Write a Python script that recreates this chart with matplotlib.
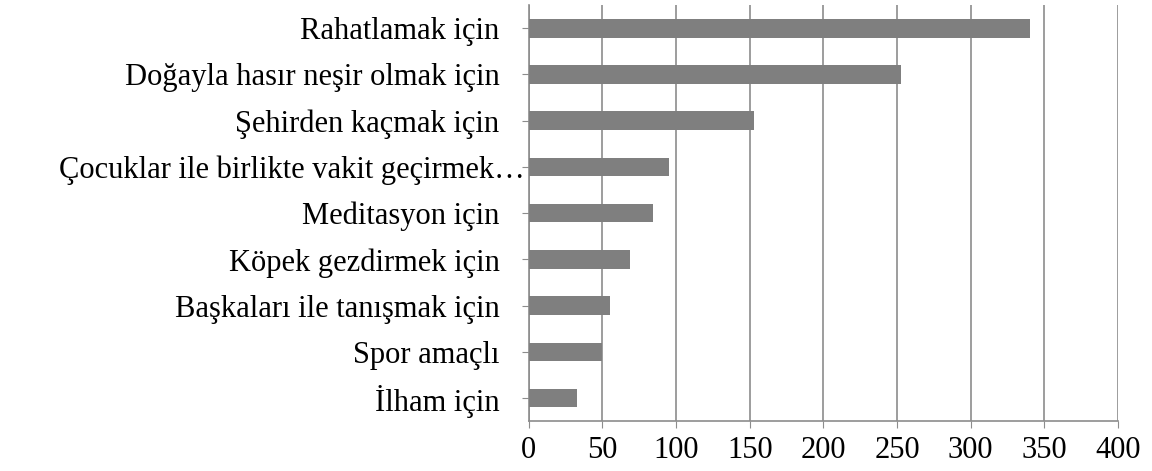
import numpy as np
import matplotlib
matplotlib.use("Agg")
import matplotlib.pyplot as plt
import matplotlib.transforms as mtransforms

# categories from top to bottom, and their counts
categories = ["Rahatlamak için",
              "Doğayla hasır neşir olmak için",
              "Şehirden kaçmak için",
              "Çocuklar ile birlikte vakit geçirmek…",
              "Meditasyon için",
              "Köpek gezdirmek için",
              "Başkaları ile tanışmak için",
              "Spor amaçlı",
              "İlham için"]
counts = [340, 253, 153, 95, 84, 69, 55, 50, 33]
xticks = [0, 50, 100, 150, 200, 250, 300, 350, 400]

plt.rcParams['font.family'] = ['Liberation Serif', 'DejaVu Serif']

fig = plt.figure(figsize=(11.52, 4.71), dpi=100)
ax = fig.add_axes([0.459, 0.106, 0.5115, 0.883])

y = np.arange(len(categories))
ax.barh(y, counts, height=0.4, color='#7f7f7f', zorder=3)

ax.set_xlim(0, 400)
ax.set_ylim(len(categories) - 0.5, -0.5)
ax.set_xticks(xticks)
ax.set_yticks(y)
ax.set_yticklabels(categories)

#vertical grid only
ax.grid(axis='x', color='#8c8c8c', linewidth=1.2, zorder=0)
for s in ['top', 'right']:
    ax.spines[s].set_visible(False)
for s in ['left', 'bottom']:
    ax.spines[s].set_color('#8c8c8c')
    ax.spines[s].set_linewidth(1.2)

ax.tick_params(axis='y', length=5, color='#8c8c8c', pad=16, labelsize=22)
ax.tick_params(axis='x', length=5, color='#8c8c8c', pad=6, labelsize=22)

#the truncated label sits closer to the axis
lbl = ax.get_yticklabels()[3]
lbl.set_transform(lbl.get_transform() + mtransforms.ScaledTranslation(18/72, 0, fig.dpi_scale_trans))

plt.savefig("out.png", dpi=100)
plt.close()
